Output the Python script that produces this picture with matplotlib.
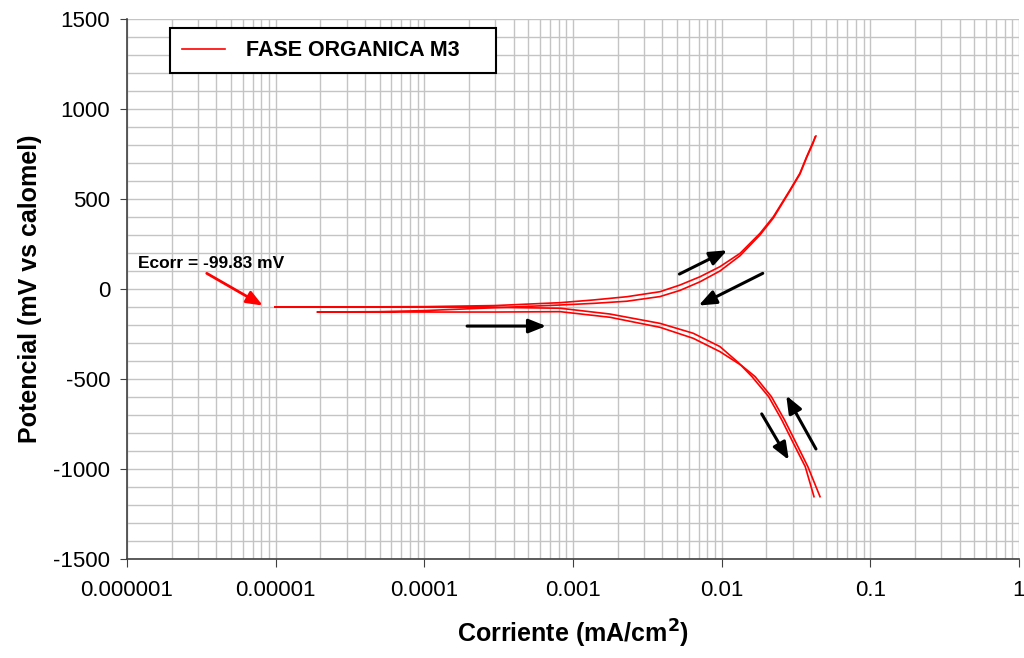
import matplotlib
matplotlib.use("Agg")
import matplotlib.pyplot as plt
from matplotlib.ticker import FixedLocator, LogLocator, NullFormatter

plt.rcParams['font.family'] = ['Liberation Sans', 'DejaVu Sans']
plt.rcParams['axes.unicode_minus'] = False

# Scan 1 (Ecorr ~ -100 mV): cathodic branch (bottom -> Ecorr) then anodic branch (Ecorr -> top)
scan1_x = [0.0418, 0.0365, 0.0312, 0.0254, 0.0207, 0.0160, 0.0130, 0.00974, 0.00644, 0.00385,
           0.00177, 0.00082, 0.0003, 0.0001, 0.00003, 0.0000099,
           0.00003, 0.0001, 0.0003, 0.000818, 0.00137, 0.0023, 0.00385, 0.00524, 0.00715,
           0.00974, 0.0133, 0.0181, 0.0223, 0.0288, 0.0336, 0.0373, 0.0413, 0.0431]
scan1_y = [-1154, -987, -876, -728, -598, -487, -410, -320, -246, -191,
           -139, -107, -102, -101, -100, -100,
           -100, -98, -92, -76, -61, -43, -15, 22, 68,
           124, 198, 309, 402, 550, 643, 735, 818, 850]

# Scan 2 (Ecorr ~ -128 mV)
scan2_x = [0.0459, 0.0380, 0.0326, 0.0265, 0.0216, 0.0168, 0.0136, 0.00974, 0.00644, 0.00385,
           0.00177, 0.00082, 0.0003, 0.0001, 0.00004, 0.000019,
           0.00005, 0.0001, 0.0003, 0.000818, 0.00137, 0.0023, 0.00385, 0.00524, 0.00715,
           0.00974, 0.0133, 0.0181, 0.0223, 0.0288, 0.0336, 0.0373, 0.0413, 0.0425]
scan2_y = [-1154, -987, -876, -728, -598, -487, -425, -348, -274, -213,
           -157, -126, -128, -128, -128, -128,
           -126, -120, -104, -89, -80, -68, -42, -8, 40,
           100, 185, 300, 395, 545, 638, 730, 812, 845]

# scan direction arrows: (x_start, y_start, x_end, y_end)
dir_arrows = [
    (1.94e-4, -206, 6.6e-4, -206),
    (5.2e-3, 83, 1.09e-2, 215),
    (1.89e-2, 87, 7.0e-3, -92),
    (1.86e-2, -694, 2.83e-2, -950),
    (4.31e-2, -889, 2.72e-2, -592),
]
ecorr_arrow = (3.44e-6, 87, 8.2e-6, -92)
ecorr_text = "Ecorr = -99.83 mV"

fig = plt.figure(figsize=(10.24, 6.58), dpi=100)
ax = fig.add_axes([0.1240, 0.1505, 0.8711, 0.8206])

ax.plot(scan1_x, scan1_y, color='#ff0000', lw=1.2, label='FASE ORGANICA M3')
ax.plot(scan2_x, scan2_y, color='#ff0000', lw=1.2)

ax.set_xscale('log')
ax.set_xlim(1e-6, 1)
ax.set_ylim(-1500, 1500)
ax.xaxis.set_minor_locator(LogLocator(base=10, subs=range(2, 10), numticks=20))
ax.xaxis.set_minor_formatter(NullFormatter())
ax.set_xticks([1e-6, 1e-5, 1e-4, 1e-3, 1e-2, 1e-1, 1])
ax.set_xticklabels(['0.000001', '0.00001', '0.0001', '0.001', '0.01', '0.1', '1'])
ax.set_yticks(range(-1500, 1501, 500))
ax.yaxis.set_minor_locator(FixedLocator(range(-1500, 1501, 100)))

ax.grid(True, which='both', color='#c4c4c4', lw=1.0)
ax.set_axisbelow(True)
ax.tick_params(axis='both', which='major', labelsize=16, direction='out', color='#404040')
ax.tick_params(axis='x', which='major', length=6, pad=9)
ax.tick_params(axis='y', which='major', length=5, pad=7)
ax.tick_params(axis='both', which='minor', length=0)
for s in ['top', 'right']:
    ax.spines[s].set_visible(False)
for s in ['left', 'bottom']:
    ax.spines[s].set_color('#404040')
    ax.spines[s].set_linewidth(1.2)

ax.set_xlabel('Corriente (mA/cm$^\\mathbf{2}$)', fontsize=18, fontweight='bold', labelpad=12)
ax.set_ylabel('Potencial (mV vs calomel)', fontsize=18, fontweight='bold', labelpad=8)

for x0, y0, x1, y1 in dir_arrows:
    ax.annotate('', xy=(x1, y1), xytext=(x0, y0),
                arrowprops=dict(arrowstyle='-|>,head_length=0.75,head_width=0.3',
                                color='black', lw=2.2, mutation_scale=14,
                                shrinkA=0, shrinkB=0))
x0, y0, x1, y1 = ecorr_arrow
ax.annotate('', xy=(x1, y1), xytext=(x0, y0),
            arrowprops=dict(arrowstyle='-|>,head_length=0.75,head_width=0.3',
                            color='#ff0000', lw=2.0, mutation_scale=13,
                            shrinkA=0, shrinkB=0))
ax.text(1.19e-6, 143, ecorr_text, fontsize=12.5, fontweight='bold', ha='left', va='center')

leg = ax.legend(loc='upper left', bbox_to_anchor=(0.048, 0.983), borderaxespad=0,
                fancybox=False, framealpha=1, edgecolor='black',
                prop={'weight': 'bold', 'size': 15.5}, handlelength=2.0,
                handletextpad=1.0, borderpad=0.55)
leg.get_frame().set_linewidth(1.5)
leg.get_texts()[0].set_text('FASE ORGANICA M3    ')

fig.savefig('out.png', dpi=100)
